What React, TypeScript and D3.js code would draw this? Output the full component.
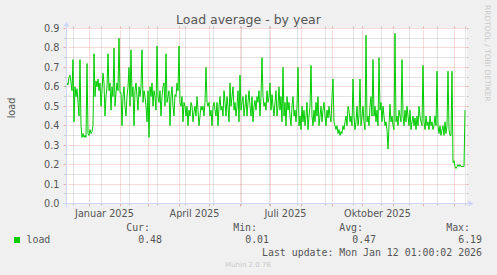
import React, { useEffect } from "react";
import * as d3 from "d3";

// ---------- data ----------
const TITLE = "Load average - by year";
const Y_LABEL = "load";
const SERIES_NAME = "load";
const END_TIME = new Date(2026, 0, 12, 1, 0, 2);
const RANGE_DAYS = 400;
const START_TIME = new Date(END_TIME.getTime() - RANGE_DAYS * 864e5);

// one value per day starting at START_TIME
const loadDaily = [
  0.60, 0.62, 0.61, 0.65, 0.66, 0.62, 0.58, 0.74, 0.42, 0.60,
  0.55, 0.59, 0.52, 0.45, 0.74, 0.40, 0.34, 0.36, 0.34, 0.35,
  0.34, 0.72, 0.36, 0.35, 0.38, 0.36, 0.37, 0.40, 0.77, 0.55,
  0.63, 0.60, 0.64, 0.58, 0.62, 0.50, 0.58, 0.67, 0.62, 0.45,
  0.55, 0.60, 0.77, 0.58, 0.62, 0.48, 0.60, 0.55, 0.80, 0.50,
  0.57, 0.62, 0.58, 0.85, 0.57, 0.57, 0.40, 0.55, 0.60, 0.50,
  0.45, 0.55, 0.60, 0.70, 0.50, 0.79, 0.55, 0.60, 0.40, 0.58,
  0.62, 0.55, 0.48, 0.60, 0.55, 0.60, 0.79, 0.52, 0.58, 0.55,
  0.50, 0.42, 0.58, 0.34, 0.60, 0.55, 0.62, 0.50, 0.58, 0.55,
  0.48, 0.81, 0.55, 0.52, 0.58, 0.45, 0.55, 0.60, 0.62, 0.50,
  0.77, 0.52, 0.55, 0.58, 0.40, 0.55, 0.60, 0.50, 0.45, 0.56,
  0.55, 0.62, 0.58, 0.81, 0.52, 0.50, 0.55, 0.42, 0.52, 0.50,
  0.45, 0.50, 0.40, 0.48, 0.45, 0.52, 0.50, 0.42, 0.47, 0.50,
  0.45, 0.55, 0.48, 0.40, 0.45, 0.50, 0.48, 0.50, 0.45, 0.52,
  0.70, 0.52, 0.50, 0.52, 0.45, 0.48, 0.40, 0.50, 0.52, 0.48,
  0.45, 0.52, 0.40, 0.50, 0.55, 0.48, 0.50, 0.45, 0.58, 0.52,
  0.45, 0.55, 0.50, 0.42, 0.62, 0.50, 0.55, 0.60, 0.48, 0.52,
  0.45, 0.50, 0.58, 0.42, 0.66, 0.48, 0.52, 0.55, 0.45, 0.50,
  0.56, 0.45, 0.52, 0.58, 0.50, 0.45, 0.55, 0.42, 0.50, 0.53,
  0.48, 0.55, 0.52, 0.58, 0.45, 0.55, 0.75, 0.55, 0.50, 0.52,
  0.48, 0.58, 0.52, 0.55, 0.62, 0.48, 0.56, 0.50, 0.45, 0.52,
  0.58, 0.45, 0.50, 0.60, 0.48, 0.55, 0.42, 0.70, 0.45, 0.52,
  0.40, 0.55, 0.48, 0.52, 0.45, 0.40, 0.50, 0.55, 0.45, 0.48,
  0.42, 0.50, 0.70, 0.40, 0.45, 0.38, 0.50, 0.42, 0.48, 0.40,
  0.45, 0.52, 0.38, 0.45, 0.50, 0.71, 0.45, 0.40, 0.48, 0.42,
  0.52, 0.45, 0.55, 0.40, 0.45, 0.50, 0.42, 0.48, 0.52, 0.45,
  0.40, 0.48, 0.44, 0.50, 0.45, 0.42, 0.55, 0.64, 0.42, 0.40,
  0.38, 0.40, 0.36, 0.38, 0.35, 0.37, 0.36, 0.40, 0.38, 0.42,
  0.45, 0.40, 0.50, 0.48, 0.42, 0.45, 0.40, 0.64, 0.45, 0.38,
  0.42, 0.50, 0.40, 0.45, 0.64, 0.40, 0.45, 0.50, 0.42, 0.38,
  0.865, 0.42, 0.45, 0.40, 0.50, 0.55, 0.45, 0.74, 0.45, 0.50,
  0.42, 0.48, 0.40, 0.75, 0.48, 0.52, 0.42, 0.50, 0.45, 0.40,
  0.42, 0.38, 0.28, 0.40, 0.51, 0.42, 0.45, 0.40, 0.38, 0.875,
  0.42, 0.45, 0.40, 0.48, 0.45, 0.42, 0.74, 0.45, 0.40, 0.48,
  0.42, 0.50, 0.45, 0.40, 0.48, 0.38, 0.42, 0.45, 0.40, 0.44,
  0.38, 0.45, 0.40, 0.50, 0.45, 0.42, 0.40, 0.71, 0.42, 0.38,
  0.45, 0.40, 0.42, 0.38, 0.45, 0.40, 0.42, 0.38, 0.40, 0.45,
  0.40, 0.68, 0.40, 0.36, 0.40, 0.35, 0.38, 0.40, 0.35, 0.42,
  0.36, 0.40, 0.68, 0.38, 0.35, 0.35, 0.68, 0.21, 0.22, 0.19,
  0.18, 0.19, 0.20, 0.19, 0.20, 0.19, 0.19, 0.19, 0.19, 0.48,
];

const yTicks = [0, 0.1, 0.2, 0.3, 0.4, 0.5, 0.6, 0.7, 0.8, 0.9];
const yMinorTicks = [0.05, 0.15, 0.25, 0.35, 0.45, 0.55, 0.65, 0.75, 0.85];
const xLabelMonths = [new Date(2025, 0, 1), new Date(2025, 3, 1), new Date(2025, 6, 1), new Date(2025, 9, 1)];
const xLabelTexts = ["Januar 2025", "April 2025", "Juli 2025", "Oktober 2025"];

const legendHeaders = ["Cur:", "Min:", "Avg:", "Max:"];
const legendValues = ["0.48", "0.01", "0.47", "6.19"];
const LAST_UPDATE = "Last update: Mon Jan 12 01:00:02 2026";
const WATERMARK = "Munin 2.0.76";
const SIDE_TEXT = "RRDTOOL / TOBI OETIKER";

// ---------- layout / style ----------
const W = 497;
const H = 275;
const AXIS_X = 66.5;
const PLOT_TOP = 28.5;
const PLOT_BOTTOM = 203.5;
const PLOT_RIGHT = 466.5;
const FONT = "'DejaVu Sans', Verdana, sans-serif";
const MONO = "'DejaVu Sans Mono', monospace";
const FONT_COLOR = "#555555";
const GRID = "rgba(143,143,143,0.5)";
const MGRID = "rgba(222,79,79,0.42)";
const AXIS_COLOR = "#CFD6F8";
const LINE_COLOR = "#00CC00";

const legendHeaderRight = [150, 257, 363, 470];
const legendValueRight = [162, 269, 376, 482];

export default function App() {
  useEffect(() => {
    document.body.style.margin = "0";
    document.body.style.background = "#F0F0F0";
  }, []);

  const x = d3.scaleTime().domain([START_TIME, END_TIME]).range([65.5, 465.5]);
  const y = d3.scaleLinear().domain([0, 0.9]).range([PLOT_BOTTOM, PLOT_TOP]);
  const crisp = (v: number) => Math.round(v - 0.5) + 0.5;

  const points = loadDaily.map((v, i) => ({
    t: d3.timeHour.offset(START_TIME, i * 24 + 12),
    v,
  }));
  const line = d3
    .line<{ t: Date; v: number }>()
    .x((d) => x(d.t))
    .y((d) => y(d.v));

  const majorX = d3.timeMonth.range(START_TIME, END_TIME);
  const lastMonday = d3.timeMonday.floor(END_TIME);
  const minorX = d3.timeMonday
    .range(START_TIME, END_TIME)
    .filter((d) => Math.round((lastMonday.getTime() - d.getTime()) / (7 * 864e5)) % 4 === 0);

  return (
    <svg
      width={W}
      height={H}
      style={{ position: "absolute", left: 0, top: 0, display: "block", background: "#F0F0F0" }}
    >
      <rect x={0} y={0} width={W} height={H} fill="#F0F0F0" />
      <rect x={66} y={28} width={401} height={176} fill="#FFFFFF" />

      {/* horizontal minor grid */}
      {yMinorTicks.map((v) => {
        const yy = crisp(y(v));
        return (
          <g key={"ym" + v}>
            <line x1={AXIS_X - 2} x2={AXIS_X} y1={yy} y2={yy} stroke={GRID} />
            <line x1={PLOT_RIGHT} x2={PLOT_RIGHT + 2} y1={yy} y2={yy} stroke={GRID} />
            <line x1={AXIS_X + 1} x2={PLOT_RIGHT - 1} y1={yy} y2={yy} stroke={GRID} strokeDasharray="1,1" />
          </g>
        );
      })}
      {/* vertical minor grid */}
      {minorX.map((d) => {
        const xx = crisp(x(d));
        return (
          <g key={"xm" + d.getTime()}>
            <line x1={xx} x2={xx} y1={PLOT_BOTTOM} y2={PLOT_BOTTOM + 2} stroke={GRID} />
            <line x1={xx} x2={xx} y1={PLOT_TOP - 2} y2={PLOT_TOP} stroke={GRID} />
            <line x1={xx} x2={xx} y1={PLOT_BOTTOM - 1} y2={PLOT_TOP + 1} stroke={GRID} strokeDasharray="1,1" />
          </g>
        );
      })}
      {/* horizontal major grid */}
      {yTicks.slice(1).map((v) => {
        const yy = crisp(y(v));
        return (
          <g key={"yM" + v}>
            <line x1={AXIS_X - 3} x2={AXIS_X} y1={yy} y2={yy} stroke={MGRID} />
            <line x1={PLOT_RIGHT} x2={PLOT_RIGHT + 2} y1={yy} y2={yy} stroke={MGRID} />
            <line x1={AXIS_X + 2} x2={PLOT_RIGHT - 1} y1={yy} y2={yy} stroke={MGRID} strokeDasharray="1,1" />
          </g>
        );
      })}
      {/* vertical major grid */}
      {majorX.map((d) => {
        const xx = crisp(x(d));
        return (
          <g key={"xM" + d.getTime()}>
            <line x1={xx} x2={xx} y1={PLOT_BOTTOM} y2={PLOT_BOTTOM + 3} stroke={MGRID} />
            <line x1={xx} x2={xx} y1={PLOT_TOP - 2} y2={PLOT_TOP} stroke={MGRID} />
            <line x1={xx} x2={xx} y1={PLOT_BOTTOM - 2} y2={PLOT_TOP + 1} stroke={MGRID} strokeDasharray="1,1" />
          </g>
        );
      })}

      {/* data line */}
      <path d={line(points) ?? ""} fill="none" stroke={LINE_COLOR} strokeWidth={1} />

      {/* axes */}
      <line x1={AXIS_X - 4} x2={PLOT_RIGHT + 4} y1={PLOT_BOTTOM} y2={PLOT_BOTTOM} stroke={AXIS_COLOR} />
      <line x1={AXIS_X} x2={AXIS_X} y1={PLOT_BOTTOM + 4} y2={PLOT_TOP - 4} stroke={AXIS_COLOR} />
      <polygon
        points={`${PLOT_RIGHT + 2},${PLOT_BOTTOM - 3} ${PLOT_RIGHT + 2},${PLOT_BOTTOM + 3} ${PLOT_RIGHT + 7},${PLOT_BOTTOM}`}
        fill={AXIS_COLOR}
      />
      <polygon
        points={`${AXIS_X - 3},${PLOT_TOP - 2} ${AXIS_X + 3},${PLOT_TOP - 2} ${AXIS_X},${PLOT_TOP - 7}`}
        fill={AXIS_COLOR}
      />

      {/* y tick labels */}
      {yTicks.map((v) => (
        <text
          key={"yl" + v}
          x={59.5}
          y={crisp(y(v))}
          dy="0.36em"
          textAnchor="end"
          fontFamily={FONT}
          fontSize={9.7}
          fill={FONT_COLOR}
        >
          {v.toFixed(1)}
        </text>
      ))}

      {/* x labels */}
      {xLabelMonths.map((d, i) => (
        <text
          key={"xl" + i}
          x={x(d3.timeDay.offset(d, 15))}
          y={216.5}
          textAnchor="middle"
          fontFamily={FONT}
          fontSize={9.7}
          fill={FONT_COLOR}
        >
          {xLabelTexts[i]}
        </text>
      ))}

      {/* title */}
      <text x={248.5} y={24} textAnchor="middle" fontFamily={FONT} fontSize={12.5} fill={FONT_COLOR}>
        {TITLE}
      </text>

      {/* y axis label */}
      <text
        transform="translate(14.5,108) rotate(-90)"
        textAnchor="middle"
        fontFamily={FONT}
        fontSize={9.7}
        fill={FONT_COLOR}
      >
        {Y_LABEL}
      </text>

      {/* side watermark */}
      <text
        transform="translate(485,5) rotate(90)"
        textAnchor="start"
        fontFamily={FONT}
        fontSize={7.5}
        fill="#c8c8c8"
      >
        {SIDE_TEXT}
      </text>

      {/* legend */}
      {legendHeaders.map((h, i) => (
        <text
          key={"lh" + i}
          x={legendHeaderRight[i]}
          y={230.5}
          textAnchor="end"
          fontFamily={MONO}
          fontSize={9.9}
          fill={FONT_COLOR}
        >
          {h}
        </text>
      ))}
      <rect x={14} y={237} width={6} height={6} fill={LINE_COLOR} />
      <text x={26.5} y={243} fontFamily={MONO} fontSize={9.9} fill={FONT_COLOR}>
        {SERIES_NAME}
      </text>
      {legendValues.map((v, i) => (
        <text
          key={"lv" + i}
          x={legendValueRight[i]}
          y={243}
          textAnchor="end"
          fontFamily={MONO}
          fontSize={9.9}
          fill={FONT_COLOR}
        >
          {v}
        </text>
      ))}
      <text x={482} y={255.5} textAnchor="end" fontFamily={MONO} fontSize={9.9} fill={FONT_COLOR}>
        {LAST_UPDATE}
      </text>
      <text x={248} y={267} textAnchor="middle" fontFamily={FONT} fontSize={7} fill="#c8c8c8">
        {WATERMARK}
      </text>
    </svg>
  );
}
